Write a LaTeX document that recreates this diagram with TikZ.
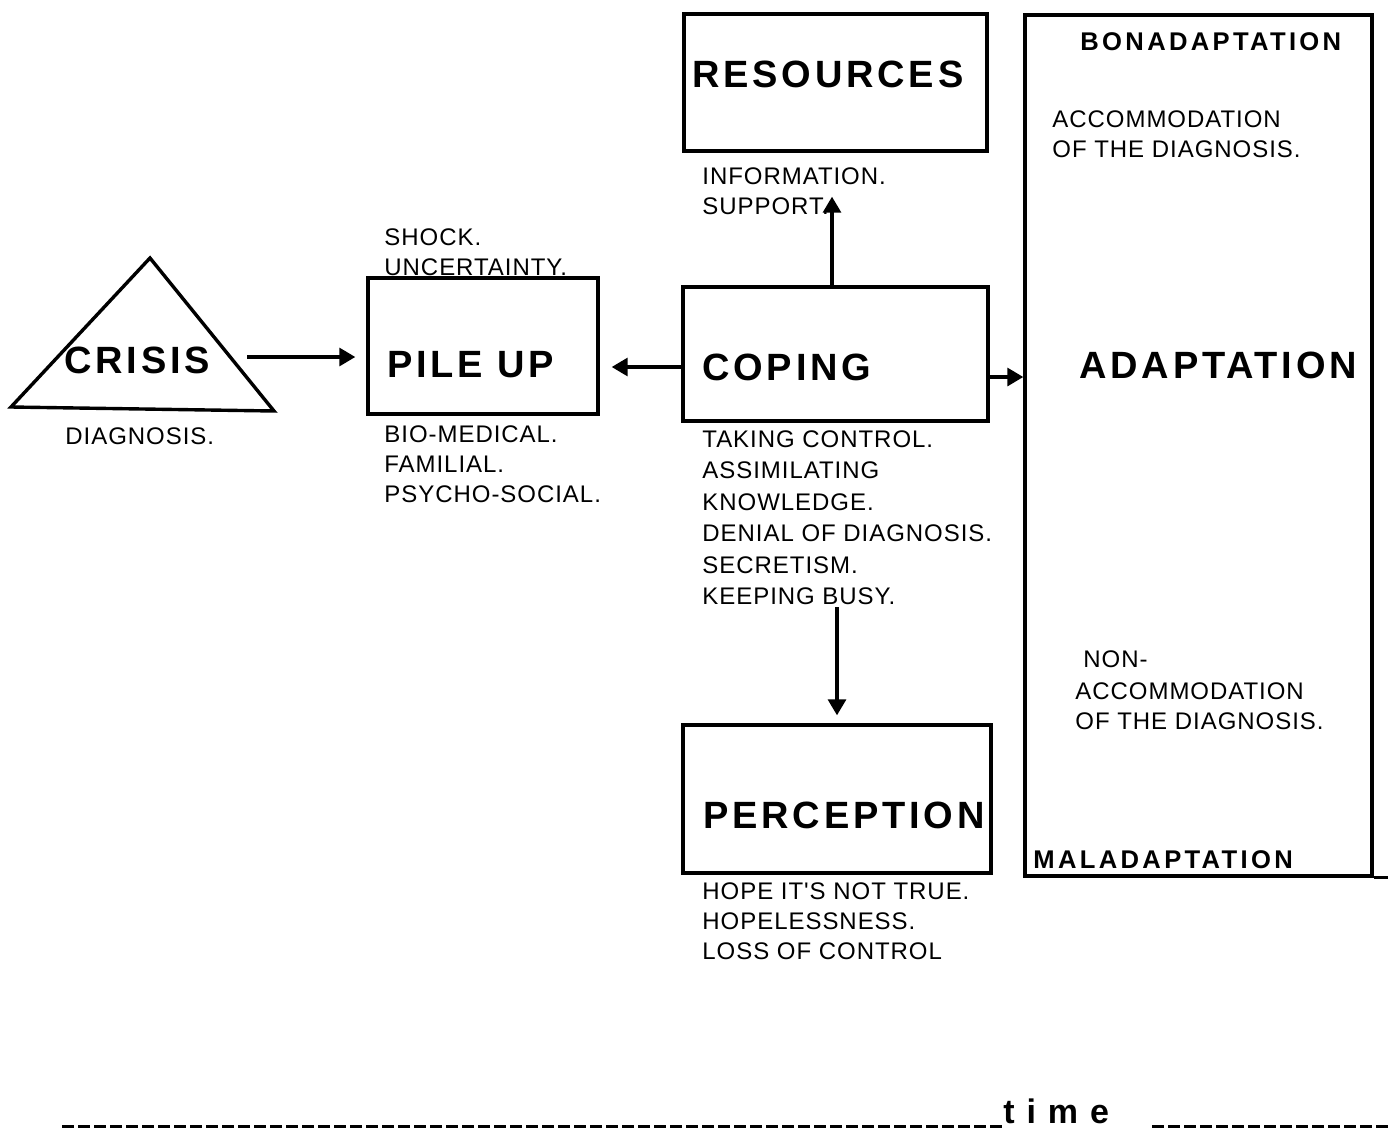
\documentclass[tikz,border=0pt]{standalone}
\usepackage{fontspec}
\setmainfont{Liberation Sans}
\newfontfamily\smallfnt[LetterSpace=4]{Liberation Sans}
\newfontfamily\bigfnt[LetterSpace=10]{Liberation Sans}
\newfontfamily\midfnt[LetterSpace=13]{Liberation Sans}
\newfontfamily\timefnt[LetterSpace=35]{Liberation Sans}
\usetikzlibrary{arrows.meta,fit}
\tikzset{
  smalltxt/.style={font=\smallfnt\fontsize{12}{15}\selectfont, anchor=north west, inner sep=0pt, align=left},
  bigtxt/.style={font=\bigfnt\bfseries\fontsize{19}{22}\selectfont, anchor=north west, inner sep=0pt},
  midtxt/.style={font=\midfnt\bfseries\fontsize{12.8}{15}\selectfont, anchor=north west, inner sep=0pt},
  boxshape/.style={draw, line width=1.7pt, inner sep=0pt},
  arr/.style={line width=1.6pt, -{Triangle[length=8pt,width=9pt]}},
  dashline/.style={line width=1.5pt, dash pattern=on 6pt off 2pt}
}
\begin{document}
\begin{tikzpicture}[x=0.5pt,y=-0.5pt]
\useasboundingbox (0,0) rectangle (1388,1130);
% CRISIS
\draw[line width=1.7pt, line join=miter] (150,258) -- (11,407) -- (274,411) -- cycle;
\node[bigtxt] (crisis) at (64,347) {CRISIS};
\node[smalltxt] (diag) at (65,427) {DIAGNOSIS.};
% PILE UP
\node[boxshape, fit={(368,278) (598,414)}] (pile) {};
\node[bigtxt] (piletxt) at (387,351) {PILE UP};
\node[smalltxt] (shock) at (384,228) {SHOCK.\\UNCERTAINTY.};
\node[smalltxt] (bio) at (384,425) {BIO-MEDICAL.\\FAMILIAL.\\PSYCHO-SOCIAL.};
% COPING
\node[boxshape, fit={(683,287) (988,421)}] (coping) {};
\node[bigtxt] (copingtxt) at (702,354) {COPING};
\node[smalltxt, font=\smallfnt\fontsize{12}{15.75}\selectfont] (copinglist) at (702,430) {TAKING CONTROL.\\ASSIMILATING\\KNOWLEDGE.\\DENIAL OF DIAGNOSIS.\\SECRETISM.\\KEEPING BUSY.};
% RESOURCES
\node[boxshape, fit={(684,14) (987,151)}] (res) {};
\node[bigtxt] (restxt) at (692,61) {RESOURCES};
\node[smalltxt] (info) at (702,167) {INFORMATION.\\SUPPORT.};
% PERCEPTION
\node[boxshape, fit={(683,725) (991,873)}] (perc) {};
\node[bigtxt] (perctxt) at (703,802) {PERCEPTION};
\node[smalltxt] (hope) at (702,882) {HOPE IT'S NOT TRUE.\\HOPELESSNESS.\\LOSS OF CONTROL};
% ADAPTATION
\node[boxshape, fit={(1025,15) (1372,876)}] (adapt) {};
\draw[line width=1.7pt] (adapt.south east) -- ++(14,0);
\node[midtxt] (bon) at (1080,32) {BONADAPTATION};
\node[smalltxt] (acc) at (1052,110) {ACCOMMODATION\\OF THE DIAGNOSIS.};
\node[bigtxt] (adtxt) at (1079,352) {ADAPTATION};
\node[smalltxt] (non) at (1083,650) {NON-};
\node[smalltxt] (acc2) at (1075,682) {ACCOMMODATION\\OF THE DIAGNOSIS.};
\node[midtxt] (mal) at (1033,850) {MALADAPTATION};
% connectors
\coordinate (cr) at (247,357);
\draw[arr, shorten >=5.5pt] (cr) -- (cr -| pile.west);
\path ([yshift=-6.5pt]coping.west) coordinate (cpL);
\draw[arr, shorten >=6pt] (cpL) -- (cpL -| pile.east);
\path ([xshift=-1.75pt]coping.north) coordinate (cpT);
\draw[arr, shorten >=22pt] (cpT) -- (cpT |- res.south);
\path (perc.north |- copinglist.south) coordinate (cpB);
\draw[arr, shorten <=1pt, shorten >=4pt] (cpB) -- (perc.north);
\path ([yshift=-11.5pt]coping.east) coordinate (cpR);
\draw[arr] (cpR) -- (cpR -| adapt.west);
% time line
\node[font=\timefnt\bfseries\fontsize{17}{20}\selectfont, anchor=base west, inner sep=0pt] (time) at (1003,1123) {time};
\coordinate (tl1) at (62,1126);
\coordinate (tl2) at (1152,1126);
\coordinate (tl3) at (1388,1126);
\draw[dashline] (tl1) -- (tl1 -| time.west);
\draw[dashline] (tl2) -- (tl3);
\end{tikzpicture}
\end{document}
